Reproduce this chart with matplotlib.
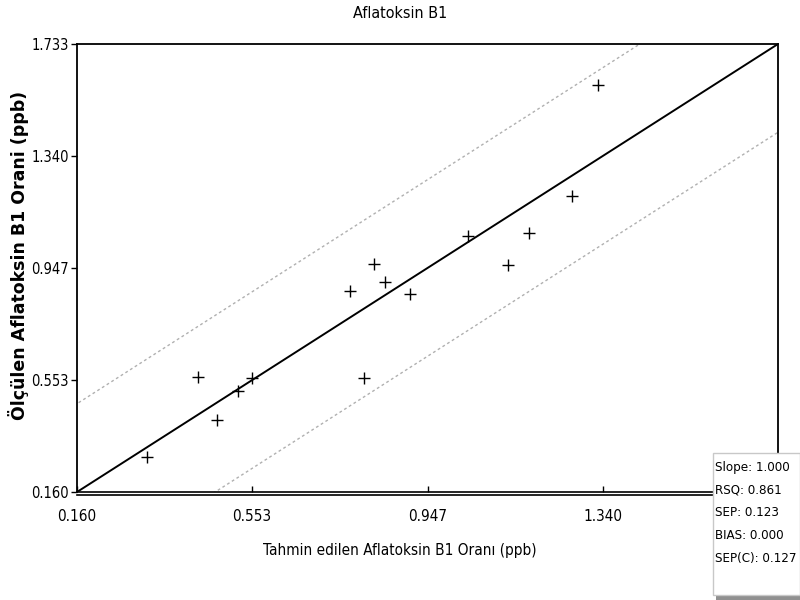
import matplotlib
matplotlib.use("Agg")
import matplotlib.pyplot as plt
from matplotlib.patches import Rectangle
from matplotlib.lines import Line2D
import numpy as np

narrow_kw = dict(family=["Liberation Sans Narrow", "DejaVu Sans"], stretch="condensed")

predicted = [0.317, 0.431, 0.474, 0.521, 0.553, 0.773, 0.804, 0.826, 0.851,
             0.907, 1.037, 1.127, 1.174, 1.271, 1.329]
measured = [0.283, 0.564, 0.413, 0.515, 0.560, 0.866, 0.560, 0.961, 0.897,
            0.855, 1.059, 0.957, 1.069, 1.199, 1.589]

axis_min, axis_max = 0.160, 1.733
tick_values = [0.160, 0.553, 0.947, 1.340, 1.733]
band_offset = 0.31
stats_lines = ["Slope: 1.000", "RSQ: 0.861", "SEP: 0.123", "BIAS: 0.000", "SEP(C): 0.127"]

fig = plt.figure(figsize=(8, 6), dpi=100)
ax = fig.add_axes([77 / 800, 108 / 600, 701 / 800, 448 / 600])

ax.plot(predicted, measured, "k+", markersize=8, markeredgewidth=1.0, zorder=4)

ref = np.array([axis_min - 1, axis_max + 1])
ax.plot(ref, ref, color="black", lw=1.4, zorder=3)
ax.plot(ref, ref + band_offset, color="#b0b0b0", lw=1.0, ls=(0, (2, 2)), zorder=2)
ax.plot(ref, ref - band_offset, color="#b0b0b0", lw=1.0, ls=(0, (2, 2)), zorder=2)

ax.set_xlim(axis_min, axis_max)
ax.set_ylim(axis_min, axis_max)
ax.set_xticks(tick_values[:-1])
ax.set_yticks(tick_values)
ax.set_xticklabels([f"{v:.3f}" for v in tick_values[:-1]], fontsize=11, **narrow_kw)
ax.set_yticklabels([f"{v:.3f}" for v in tick_values], fontsize=10.5, **narrow_kw)
ax.tick_params(axis="x", direction="in", length=4, pad=12, width=1)
ax.tick_params(axis="y", direction="out", length=4, pad=2, width=1)

for side in ["top", "left", "right"]:
    ax.spines[side].set_linewidth(1.3)
ax.spines["bottom"].set_visible(False)
# doubled bottom axis line
for yy in (491.5, 494.5):
    fig.add_artist(Line2D([77 / 800, 778 / 800], [1 - yy / 600] * 2, color="black", lw=1.2))

fig.text(0.5, 1 - 13 / 600, "Aflatoksin B1", ha="center", va="center",
         fontsize=11.5, **narrow_kw)
fig.text(400 / 800, 1 - 551 / 600, "Tahmin edilen Aflatoksin B1 Oranı (ppb)",
         ha="center", va="center", fontsize=11, **narrow_kw)
fig.text(19 / 800, 1 - 255 / 600, "Ölçülen Aflatoksin B1 Orani (ppb)", rotation=90,
         ha="center", va="center", family="DejaVu Sans",
         fontweight="bold", fontsize=12.5)

# stats box in the lower right corner
fig.add_artist(Rectangle((716 / 800, 0), 84 / 800, 4 / 600, facecolor="#909090",
                         edgecolor="none", zorder=9))
fig.add_artist(Rectangle((713 / 800, 5 / 600), 87 / 800, 142 / 600, facecolor="white",
                         edgecolor="#c8c8c8", lw=1.0, zorder=10))
for i, line in enumerate(stats_lines):
    fig.text(715 / 800, 1 - (467 + i * 22.8) / 600, line, ha="left", va="center",
             fontsize=9.5, zorder=11, **narrow_kw)

fig.savefig("out.png", dpi=100)
